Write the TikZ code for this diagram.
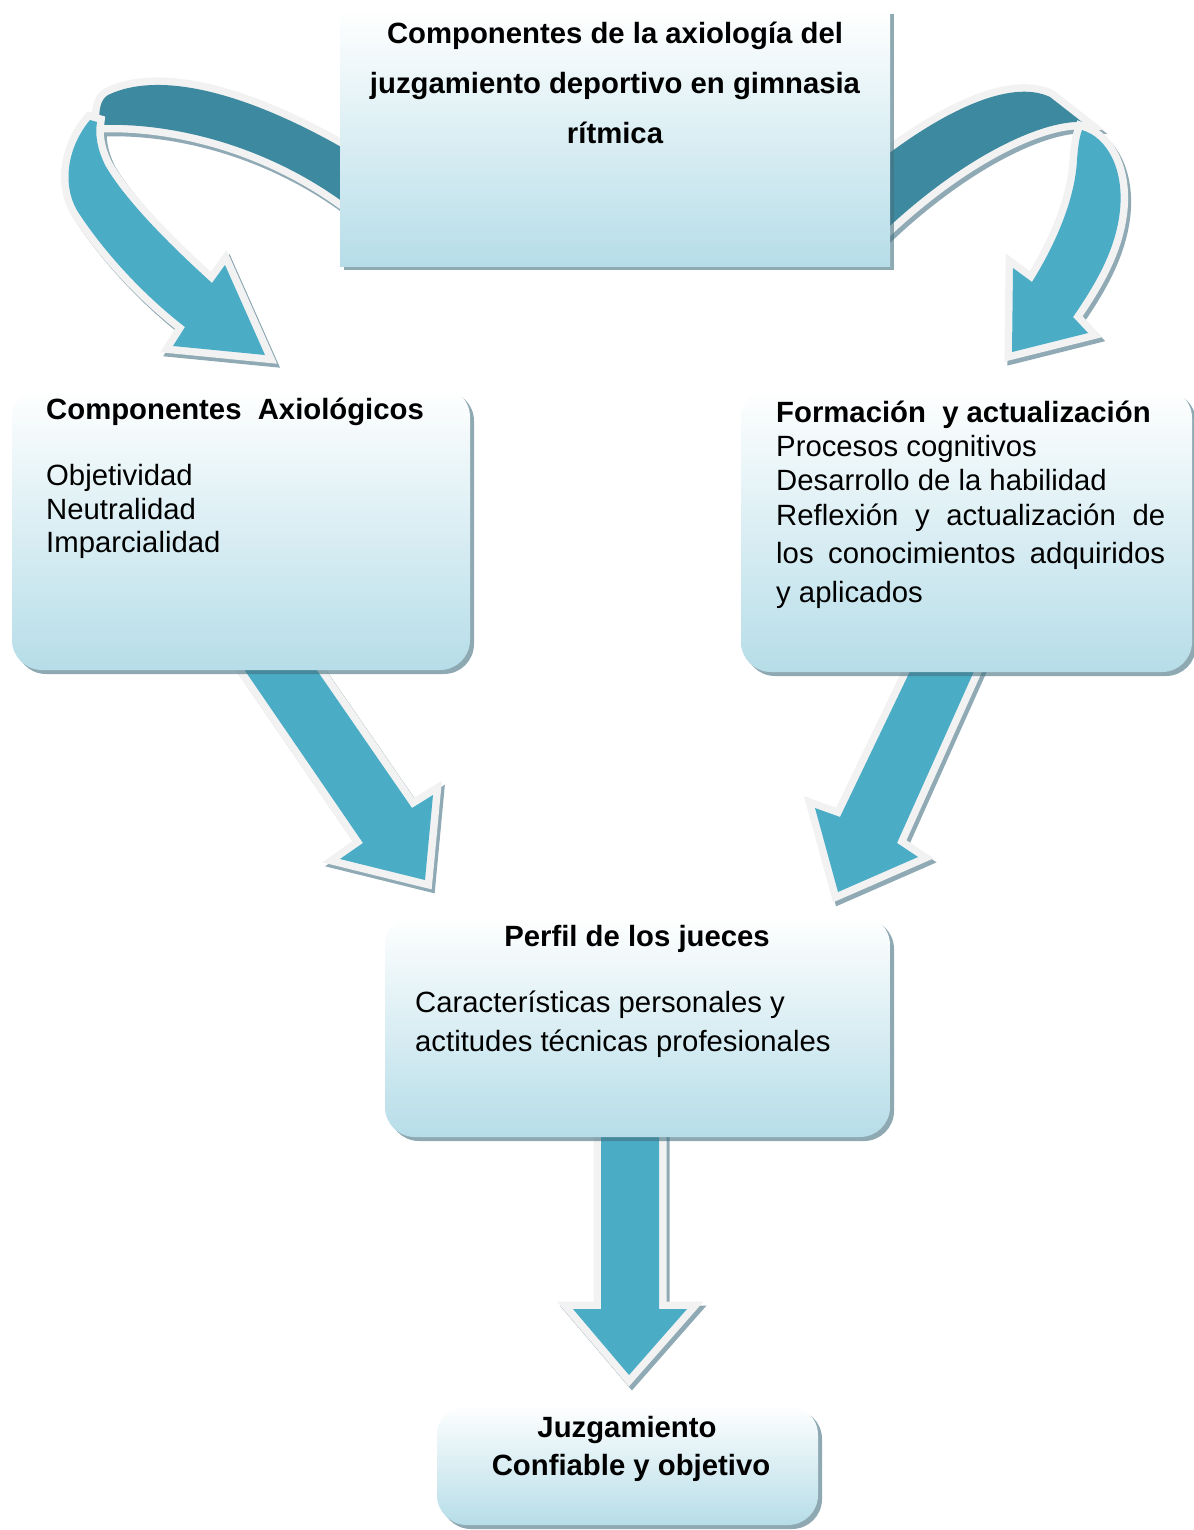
\documentclass[tikz,border=0pt]{standalone}
\usepackage{fontspec}
\setmainfont{Liberation Sans}
\usetikzlibrary{shadows}
\definecolor{aqua}{HTML}{4BACC6}
\definecolor{aquadark}{HTML}{3D899F}
\definecolor{rim}{HTML}{F2F2F2}
\definecolor{rimshadow}{HTML}{8FAAB4}
\definecolor{boxbot}{HTML}{B6DDE8}
\definecolor{boxshadow}{RGB}{68,112,128}
% block arrows (pixel coordinates, y downwards)
\newcommand{\arrLS}{(224,640) -- (363,843) -- (340,859) -- (425,880) -- (433,795) -- (412,808) -- (296,640) -- cycle}
\newcommand{\arrRS}{(925,640) -- (840,817) -- (815,808) -- (838,892) -- (918,857) -- (897,843) -- (988,640) -- cycle}
\newcommand{\arrDS}{(601,1120) -- (601,1309) -- (573,1309) -- (629,1375) -- (687,1309) -- (659,1309) -- (659,1120) -- cycle}
\newcommand{\arrLD}{(360,158) .. controls (250,92) and (160,70) .. (108,95) .. controls (100,100) and (99,110) .. (99,125) .. controls (180,122) and (280,150) .. (360,215) -- cycle}
\newcommand{\arrLL}{(90,120) .. controls (65,150) and (62,190) .. (80,215) .. controls (110,260) and (150,300) .. (185,327) -- (173,346) -- (265,355) -- (225,265) -- (212,283) .. controls (170,245) and (125,200) .. (105,165) .. controls (97,148) and (95,135) .. (97,122) -- cycle}
\newcommand{\arrRD}{(870,168) .. controls (940,112) and (1010,78) .. (1050,97) -- (1082,122) .. controls (1040,120) and (955,160) .. (870,245) -- cycle}
\newcommand{\arrRL}{(1082,130) .. controls (1108,138) and (1124,170) .. (1120,210) .. controls (1116,250) and (1095,285) .. (1073,317) -- (1088,333) -- (1012,352) -- (1013,268) -- (1032,282) .. controls (1055,245) and (1075,200) .. (1077,160) .. controls (1078,148) and (1079,138) .. (1082,130) -- cycle}
\begin{document}
\begin{tikzpicture}[x=1pt,y=-1pt,
  arrowshadow/.style={draw=rimshadow, fill=rimshadow, line width=15pt, line join=miter, miter limit=4, shift={(3,4)}},
  arrowrim/.style={draw=rim, line width=15pt, line join=miter, miter limit=4},
  lightband/.style={fill=aqua},
  darkband/.style={fill=aquadark},
  panel/.style={top color=white, bottom color=boxbot, draw=none, inner sep=0pt, outer sep=0pt, anchor=north west,
    drop shadow={shadow xshift=4pt, shadow yshift=-4pt, fill=boxshadow, opacity=0.6}},
  roundpanel/.style={panel, rounded corners=30pt},
  txt/.style={inner sep=0pt, font=\fontsize{29.3}{34}\selectfont},
  txtb/.style={inner sep=0pt, font=\fontsize{29.3}{34}\selectfont\bfseries}]
\useasboundingbox (0,0) rectangle (1193,1530);

% arrow shadows
\draw[arrowshadow] \arrLS;
\draw[arrowshadow] \arrRS;
\draw[arrowshadow] \arrDS;
\draw[arrowshadow] \arrLD;
\draw[arrowshadow] \arrLL;
\draw[arrowshadow] \arrRD;
\draw[arrowshadow] \arrRL;

% curved arrows
\draw[arrowrim] \arrLD; \fill[darkband] \arrLD;
\draw[arrowrim] \arrLL; \fill[lightband] \arrLL;
\draw[arrowrim] \arrRD; \fill[darkband] \arrRD;
\draw[arrowrim] \arrRL; \fill[lightband] \arrRL;

% straight arrows
\draw[arrowrim] \arrLS; \fill[lightband] \arrLS;
\draw[arrowrim] \arrRS; \fill[lightband] \arrRS;
\draw[arrowrim] \arrDS; \fill[lightband] \arrDS;

% panels
\node[panel, minimum width=550pt, minimum height=256pt] (title) at (340,10) {};
\node[roundpanel, minimum width=458pt, minimum height=283pt] (comp) at (12,387) {};
\node[roundpanel, minimum width=451pt, minimum height=284pt] (form) at (741,388) {};
\node[roundpanel, minimum width=505pt, minimum height=222pt] (perfil) at (385,915) {};
\node[roundpanel, minimum width=381pt, minimum height=120pt] (juzg) at (437,1405) {};

% texts
\node[txtb, anchor=base] (t1) at (615,44) {Componentes de la axiología del};
\node[txtb, anchor=base] (t2) at (615,94) {juzgamiento deportivo en gimnasia};
\node[txtb, anchor=base] (t3) at (615,144) {rítmica};

\node[txtb, anchor=base west] (c1) at (46,419) {Componentes~~Axiológicos};
\node[txt, anchor=base west] (c2) at (46,485) {Objetividad};
\node[txt, anchor=base west] (c3) at (46,519) {Neutralidad};
\node[txt, anchor=base west] (c4) at (46,552) {Imparcialidad};

\node[txtb, anchor=base west] (f1) at (776,422) {Formación~~y actualización};
\node[txt, anchor=base west] (f2) at (776,456) {Procesos cognitivos};
\node[txt, anchor=base west] (f3) at (776,490) {Desarrollo de la habilidad};
\node[txt, anchor=base west] (f4) at (776,525) {\makebox[389pt][s]{Reflexión y actualización de}};
\node[txt, anchor=base west] (f5) at (776,563) {\makebox[389pt][s]{los conocimientos adquiridos}};
\node[txt, anchor=base west] (f6) at (776,602) {y aplicados};

\node[txtb, anchor=base] (p1) at (637,946) {Perfil de los jueces};
\node[txt, anchor=base west] (p2) at (415,1012) {Características personales y};
\node[txt, anchor=base west] (p3) at (415,1051) {actitudes técnicas profesionales};

\node[txtb, anchor=base] (j1) at (627,1437) {Juzgamiento};
\node[txtb, anchor=base] (j2) at (631,1475) {Confiable y objetivo};
\end{tikzpicture}
\end{document}
